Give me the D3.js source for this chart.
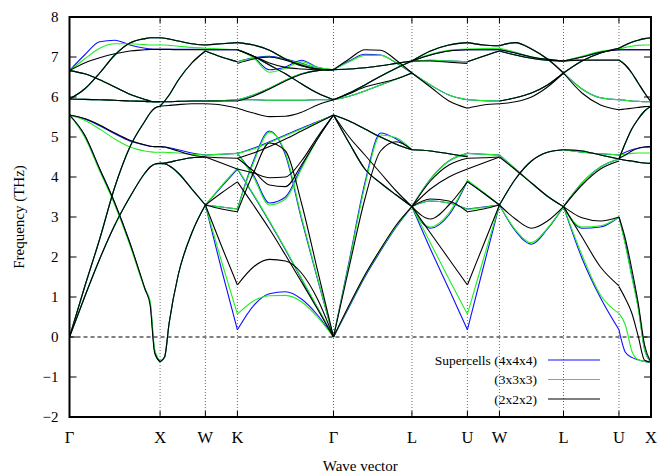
<!DOCTYPE html>
<html>
<head>
<meta charset="utf-8">
<script src="https://cdn.jsdelivr.net/npm/d3@7"></script>
<style>
  body { margin: 0; background: #fff; }
  text { font-family: "Liberation Serif", "Times New Roman", serif; fill: #000; }
</style>
</head>
<body>
<div id="chart"></div>
<script>
// high symmetry points along the fcc path (k in units of 2pi/a)
var kLabels = ['Γ', 'X', 'W', 'K', 'Γ', 'L', 'U', 'W', 'L', 'U', 'X'];
var kTicks = [0, 1, 1.5, 1.8536, 2.9142, 3.7802, 4.3926, 4.7462, 5.4533, 6.0657, 6.4193];
// sampling of each segment (fraction of segment length)
var segFr = [
  [0, 1/6, 1/3, 1/2, 2/3, 5/6, 0.89, 0.94, 1],
  [0, 0.1, 0.2, 0.4, 0.7, 1],
  [0, 0.5, 1],
  [0, 1/6, 1/3, 1/2, 2/3, 5/6, 1],
  [0, 0.2, 0.4, 0.6, 0.8, 1],
  [0, 1/3, 2/3, 1],
  [0, 0.5, 1],
  [0, 0.25, 0.5, 0.75, 1],
  [0, 1/3, 2/3, 1],
  [0, 0.2, 0.4, 0.6, 0.8, 1]
];
var yTicks = [-2, -1, 0, 1, 2, 3, 4, 5, 6, 7, 8];
var seriesNames = ['Supercells (4x4x4)', '(3x3x3)', '(2x2x2)'];

// branches that are the same for all three supercells (THz)
var shared = [
  [ [0, 1.0, 1.95, 2.8, 3.5, 4.1, 4.25, 4.32, 4.34],
    [0, 1.25, 2.45, 3.75, 4.75, 5.4, 5.6, 5.72, 5.77],
    [6.66, 6.58, 6.43, 6.25, 6.07, 5.94, 5.9, 5.88, 5.88],
    [5.95, 6.2, 6.6, 7.05, 7.35, 7.46, 7.48, 7.48, 7.48],
    [5.95, 5.94, 5.93, 5.92, 5.9, 5.89, 5.88, 5.88, 5.88] ],
  [ [-0.62, -0.5, 0.35, 1.55, 2.6, 3.3],
    [4.34, 4.33, 4.28, 4.1, 3.7, 3.3],
    [4.34, 4.35, 4.37, 4.42, 4.48, 4.5],
    [5.77, 5.9, 6.05, 6.42, 6.85, 7.15],
    [5.88, 5.88, 5.88, 5.89, 5.9, 5.9],
    [7.48, 7.47, 7.45, 7.4, 7.33, 7.3] ],
  [ [7.3, 7.33, 7.36],
    [7.15, 7.0, 6.88] ],
  [ [7.36, 7.3, 7.17, 6.95, 6.78, 6.7, 6.68],
    [7.18, 7.02, 6.8, 6.58, 6.33, 6.1, 5.93] ],
  [ [5.55, 4.85, 4.2, 3.85, 3.55, 3.26],
    [5.93, 6.1, 6.3, 6.52, 6.72, 6.9],
    [6.68, 6.7, 6.73, 6.78, 6.84, 6.9],
    [5.55, 5.4, 5.2, 5.0, 4.82, 4.68] ],
  [ [4.68, 4.65, 4.58, 4.51],
    [6.9, 7.15, 7.3, 7.36] ],
  [ [7.36, 7.3, 7.28],
    [6.88, 7.02, 7.15] ],
  [ [7.28, 7.36, 7.2, 6.95, 6.6],
    [7.15, 7.05, 6.97, 6.92, 6.9],
    [5.9, 5.98, 6.1, 6.3, 6.6],
    [3.3, 3.95, 4.4, 4.62, 4.68] ],
  [ [6.6, 6.9, 7.1, 7.22],
    [4.68, 4.65, 4.55, 4.45] ],
  [ [7.22, 7.3, 7.37, 7.42, 7.46, 7.48],
    [4.45, 4.42, 4.4, 4.37, 4.35, 4.34],
    [4.45, 4.85, 5.2, 5.45, 5.65, 5.77] ]
];

// 4x4x4
var blue = [
  [ [5.55, 5.05, 4.2, 3.35, 2.35, 1.2, 0.85, -0.35, -0.62],
    [5.55, 5.45, 5.28, 5.08, 4.9, 4.8, 4.77, 4.76, 4.76],
    [6.66, 7.05, 7.38, 7.42, 7.3, 7.22, 7.2, 7.19, 7.19] ],
  [ [4.76, 4.75, 4.73, 4.68, 4.6, 4.55],
    [7.19, 7.19, 7.19, 7.19, 7.19, 7.19] ],
  [ [3.3, 1.7, 0.18], [3.3, 3.25, 3.2], [3.3, 3.75, 4.2],
    [4.55, 4.57, 4.59], [7.19, 7.18, 7.18], [5.9, 5.91, 5.93] ],
  [ [0.18, 0.78, 1.08, 1.13, 0.95, 0.55, 0],
    [4.2, 3.55, 2.88, 2.18, 1.45, 0.73, 0],
    [3.2, 4.4, 5.15, 4.55, 2.95, 1.45, 0],
    [4.59, 4.05, 3.35, 3.5, 4.25, 4.95, 5.55],
    [4.59, 4.72, 4.88, 5.05, 5.22, 5.38, 5.55],
    [7.18, 7.0, 6.68, 6.75, 6.92, 6.74, 6.68],
    [6.88, 6.98, 7.02, 6.95, 6.84, 6.72, 6.68],
    [5.93, 6.05, 6.22, 6.42, 6.58, 6.66, 6.68],
    [5.93, 5.93, 5.92, 5.92, 5.92, 5.93, 5.93] ],
  [ [0, 0.75, 1.5, 2.15, 2.75, 3.26],
    [0, 1.9, 3.85, 5.1, 4.95, 4.68],
    [6.68, 6.9, 7.07, 7.05, 6.85, 6.6],
    [5.93, 6.02, 6.15, 6.3, 6.45, 6.6] ],
  [ [3.26, 2.2, 1.2, 0.18], [3.26, 2.72, 3.05, 3.9], [3.26, 3.4, 3.35, 3.2],
    [3.26, 3.95, 4.4, 4.59], [6.9, 6.92, 6.9, 6.88], [6.9, 7.05, 7.15, 7.18],
    [6.6, 6.3, 6.05, 5.93] ],
  [ [0.18, 1.75, 3.3], [3.2, 3.25, 3.3], [3.9, 3.6, 3.3],
    [4.59, 4.57, 4.55], [7.18, 7.18, 7.19], [5.93, 5.91, 5.9] ],
  [ [7.19, 7.1, 7.0, 6.94, 6.9],
    [3.3, 2.65, 2.32, 2.7, 3.26],
    [4.55, 4.2, 3.85, 3.52, 3.26] ],
  [ [3.26, 1.97, 0.98, 0.18], [3.26, 2.72, 2.75, 3.0], [3.26, 3.85, 4.25, 4.45],
    [6.9, 6.93, 6.93, 6.93], [6.9, 7.0, 7.12, 7.18], [4.68, 4.62, 4.58, 4.55],
    [6.6, 6.2, 5.98, 5.93] ],
  [ [0.18, -0.38, -0.51, -0.57, -0.61, -0.63],
    [3.0, 2.34, 1.55, 0.76, -0.3, -0.63],
    [4.55, 4.62, 4.68, 4.72, 4.75, 4.76],
    [7.18, 7.18, 7.18, 7.18, 7.18, 7.18],
    [6.93, 6.8, 6.6, 6.35, 6.1, 5.88],
    [5.93, 5.92, 5.9, 5.89, 5.88, 5.88] ]
];

// 3x3x3
var green = [
  [ [5.55, 5.0, 4.15, 3.3, 2.3, 1.2, 0.9, -0.3, -0.6],
    [5.55, 5.42, 5.2, 4.95, 4.75, 4.65, 4.63, 4.62, 4.62],
    [6.66, 6.95, 7.22, 7.33, 7.33, 7.31, 7.3, 7.3, 7.3] ],
  [ [4.62, 4.62, 4.61, 4.6, 4.57, 4.55],
    [7.3, 7.3, 7.29, 7.27, 7.24, 7.22] ],
  [ [3.3, 1.9, 0.57], [3.3, 3.25, 3.2], [3.3, 3.78, 4.22],
    [4.55, 4.57, 4.59], [7.22, 7.2, 7.18], [5.9, 5.91, 5.93] ],
  [ [0.57, 0.9, 1.03, 1.04, 0.88, 0.5, 0],
    [4.22, 3.57, 2.9, 2.2, 1.47, 0.74, 0],
    [3.2, 4.35, 5.12, 4.6, 3.0, 1.48, 0],
    [4.59, 4.0, 3.3, 3.45, 4.2, 4.95, 5.55],
    [4.59, 4.7, 4.86, 5.03, 5.2, 5.37, 5.55],
    [7.18, 6.98, 6.62, 6.72, 6.88, 6.74, 6.68],
    [6.88, 6.97, 7.0, 6.93, 6.83, 6.72, 6.68],
    [5.93, 6.05, 6.22, 6.42, 6.58, 6.66, 6.68],
    [5.93, 5.93, 5.92, 5.92, 5.92, 5.93, 5.93] ],
  [ [0, 0.78, 1.53, 2.18, 2.77, 3.26],
    [0, 1.85, 3.78, 5.05, 4.98, 4.68],
    [6.68, 6.88, 7.04, 7.04, 6.86, 6.6],
    [5.93, 6.02, 6.15, 6.3, 6.45, 6.6] ],
  [ [3.26, 2.35, 1.45, 0.57], [3.26, 2.75, 3.1, 3.92], [3.26, 3.4, 3.35, 3.19],
    [3.26, 3.95, 4.4, 4.59], [6.9, 6.92, 6.9, 6.88], [6.9, 7.07, 7.17, 7.2],
    [6.6, 6.3, 6.05, 5.93] ],
  [ [0.57, 1.95, 3.3], [3.19, 3.24, 3.3], [3.92, 3.62, 3.3],
    [4.59, 4.57, 4.55], [7.2, 7.21, 7.22], [5.93, 5.91, 5.9] ],
  [ [7.22, 7.12, 7.0, 6.94, 6.9],
    [3.3, 2.68, 2.36, 2.72, 3.26],
    [4.55, 4.2, 3.85, 3.52, 3.26] ],
  [ [3.26, 2.05, 1.05, 0.59], [3.26, 2.75, 2.78, 3.0], [3.26, 3.85, 4.25, 4.45],
    [6.9, 6.93, 6.93, 6.93], [6.9, 7.02, 7.14, 7.2], [4.68, 4.62, 4.58, 4.55],
    [6.6, 6.2, 5.98, 5.93] ],
  [ [0.59, 0.3, -0.35, -0.57, -0.61, -0.63],
    [3.0, 2.3, 1.5, 0.72, -0.32, -0.63],
    [4.55, 4.57, 4.59, 4.6, 4.6, 4.6],
    [7.2, 7.24, 7.27, 7.29, 7.3, 7.3],
    [6.93, 6.8, 6.6, 6.35, 6.1, 5.88],
    [5.93, 5.92, 5.9, 5.89, 5.88, 5.88] ]
];

// 2x2x2
var black = [
  [ [5.55, 5.05, 4.2, 3.35, 2.35, 1.2, 0.8, -0.4, -0.62],
    [5.55, 5.46, 5.3, 5.1, 4.92, 4.8, 4.77, 4.76, 4.76],
    [6.66, 6.85, 6.98, 7.08, 7.15, 7.18, 7.19, 7.19, 7.19] ],
  [ [4.76, 4.75, 4.72, 4.65, 4.55, 4.5],
    [7.19, 7.19, 7.19, 7.18, 7.18, 7.18],
    [5.77, 5.78, 5.79, 5.81, 5.83, 5.83] ],
  [ [3.3, 2.28, 1.3], [3.3, 3.2, 3.13], [3.3, 3.6, 3.88], [4.5, 4.48, 4.47],
    [4.5, 4.35, 4.2], [7.18, 7.18, 7.18], [5.83, 5.8, 5.72], [5.9, 5.9, 5.9] ],
  [ [1.3, 1.75, 1.94, 1.9, 1.6, 0.95, 0],
    [3.88, 3.3, 2.7, 2.05, 1.38, 0.7, 0],
    [3.13, 4.1, 4.85, 4.65, 3.35, 1.67, 0],
    [4.47, 4.15, 3.8, 3.76, 4.3, 4.95, 5.55],
    [4.2, 4.1, 3.98, 4.0, 4.4, 5.0, 5.55],
    [4.47, 4.6, 4.76, 4.95, 5.15, 5.35, 5.55],
    [7.18, 7.02, 6.85, 6.74, 6.7, 6.68, 6.68],
    [6.84, 6.95, 7.0, 6.92, 6.8, 6.7, 6.68],
    [5.72, 5.6, 5.51, 5.52, 5.62, 5.8, 5.93],
    [5.9, 6.02, 6.2, 6.4, 6.57, 6.66, 6.68] ],
  [ [0, 0.8, 1.55, 2.2, 2.8, 3.26],
    [0, 1.75, 3.45, 4.65, 4.88, 4.68],
    [6.68, 6.95, 7.18, 7.17, 6.92, 6.6],
    [5.93, 6.08, 6.25, 6.35, 6.45, 6.6],
    [5.55, 5.0, 4.55, 4.1, 3.65, 3.26] ],
  [ [3.26, 2.6, 1.95, 1.3], [3.26, 2.95, 3.3, 3.88], [3.26, 3.45, 3.4, 3.13],
    [3.26, 3.9, 4.3, 4.47], [3.26, 3.7, 4.0, 4.2], [6.9, 6.9, 6.87, 6.84],
    [6.9, 7.05, 7.15, 7.18], [6.6, 6.25, 5.9, 5.72] ],
  [ [1.3, 2.3, 3.3], [3.13, 3.2, 3.3], [3.88, 3.6, 3.3], [4.47, 4.48, 4.5],
    [4.2, 4.35, 4.5], [7.18, 7.18, 7.18], [5.72, 5.8, 5.83] ],
  [ [7.18, 7.1, 7.0, 6.94, 6.9],
    [3.3, 2.95, 2.72, 2.9, 3.26],
    [4.5, 4.18, 3.85, 3.52, 3.26],
    [5.83, 5.88, 6.0, 6.25, 6.6] ],
  [ [3.26, 2.5, 1.75, 1.28], [3.26, 2.98, 2.9, 3.0], [3.26, 3.8, 4.2, 4.4],
    [6.9, 6.92, 6.92, 6.92], [6.9, 7.0, 7.12, 7.18], [6.6, 6.1, 5.8, 5.68] ],
  [ [1.26, 0.96, 0.6, 0.02, -0.58, -0.63],
    [3.0, 2.45, 1.7, 0.85, -0.2, -0.63],
    [4.47, 4.55, 4.65, 4.72, 4.75, 4.76],
    [7.18, 7.18, 7.18, 7.18, 7.18, 7.18],
    [6.92, 6.8, 6.6, 6.35, 6.1, 5.88],
    [5.68, 5.7, 5.72, 5.74, 5.76, 5.77] ]
];

var colors = ['#1010ff', '#20ee20', '#000000'];
var series = [blue, green, black];

var W = 659, H = 474,
    margin = {left: 69.5, right: 8, top: 17, bottom: 57};

var svg = d3.select('#chart').append('svg')
  .attr('width', W).attr('height', H);

var x = d3.scaleLinear()
  .domain([0, kTicks[kTicks.length - 1]])
  .range([margin.left, W - margin.right]);
var y = d3.scaleLinear()
  .domain([-2, 8])
  .range([H - margin.bottom, margin.top]);

var pL = x.range()[0], pR = x.range()[1], pT = y.range()[1], pB = y.range()[0];

svg.append('clipPath').attr('id', 'clip')
  .append('rect')
  .attr('x', pL).attr('y', pT)
  .attr('width', pR - pL)
  .attr('height', pB - pT);

// dotted lines at the symmetry points
svg.append('g').selectAll('line')
  .data(kTicks.slice(1, -1))
  .enter().append('line')
    .attr('x1', function(d) { return x(d); })
    .attr('x2', function(d) { return x(d); })
    .attr('y1', pB).attr('y2', pT)
    .attr('stroke', '#444')
    .attr('stroke-width', 0.8)
    .attr('stroke-dasharray', '1,2');

// zero line
svg.append('line')
  .attr('x1', pL).attr('x2', pR)
  .attr('y1', y(0)).attr('y2', y(0))
  .attr('stroke', '#000').attr('stroke-width', 1)
  .attr('stroke-dasharray', '4,3');

var line = d3.line()
  .x(function(d) { return x(d[0]); })
  .y(function(d) { return y(d[1]); })
  .curve(d3.curveMonotoneX);

var bands = svg.append('g').attr('clip-path', 'url(#clip)');
series.forEach(function(s, si) {
  var g = bands.append('g')
    .attr('fill', 'none')
    .attr('stroke', colors[si])
    .attr('stroke-width', 1.1);
  s.forEach(function(seg, i) {
    var k0 = kTicks[i], k1 = kTicks[i + 1];
    shared[i].concat(seg).forEach(function(vals) {
      var pts = vals.map(function(v, j) {
        return [k0 + segFr[i][j] * (k1 - k0), v];
      });
      g.append('path').attr('d', line(pts));
    });
  });
});

// frame and ticks
svg.append('rect')
  .attr('x', pL).attr('y', pT)
  .attr('width', pR - pL).attr('height', pB - pT)
  .attr('fill', 'none').attr('stroke', '#000').attr('stroke-width', 2);

var yt = svg.append('g');
yTicks.forEach(function(t) {
  yt.append('line').attr('x1', pL).attr('x2', pL + 7)
    .attr('y1', y(t)).attr('y2', y(t)).attr('stroke', '#000').attr('stroke-width', 1);
  yt.append('line').attr('x1', pR - 7).attr('x2', pR)
    .attr('y1', y(t)).attr('y2', y(t)).attr('stroke', '#000').attr('stroke-width', 1);
  yt.append('text')
    .attr('x', pL - 11).attr('y', y(t))
    .attr('dy', '0.35em')
    .attr('text-anchor', 'end')
    .style('font-size', '15px')
    .text(t < 0 ? '\u2212' + Math.abs(t) : t);
});

var xt = svg.append('g');
kTicks.forEach(function(k, i) {
  xt.append('line').attr('x1', x(k)).attr('x2', x(k))
    .attr('y1', pB).attr('y2', pB - 6).attr('stroke', '#000');
  xt.append('line').attr('x1', x(k)).attr('x2', x(k))
    .attr('y1', pT).attr('y2', pT + 6).attr('stroke', '#000');
  xt.append('text')
    .attr('x', x(k)).attr('y', pB + 26)
    .attr('text-anchor', 'middle')
    .style('font-size', '16.5px')
    .text(kLabels[i]);
});

svg.append('text')
  .attr('x', (pL + pR) / 2).attr('y', H - 3)
  .attr('text-anchor', 'middle')
  .style('font-size', '15px')
  .text('Wave vector');

svg.append('text')
  .attr('transform', 'translate(24,' + ((pT + pB) / 2) + ') rotate(-90)')
  .attr('text-anchor', 'middle')
  .style('font-size', '15px')
  .text('Frequency (THz)');

// legend
var lg = svg.append('g');
seriesNames.forEach(function(name, i) {
  var ly = 360 + i * 19.5;
  lg.append('text')
    .attr('x', 537).attr('y', ly).attr('dy', '0.35em')
    .attr('text-anchor', 'end')
    .style('font-size', '13.5px')
    .text(name);
  lg.append('line')
    .attr('x1', 548).attr('x2', 600)
    .attr('y1', ly).attr('y2', ly)
    .attr('stroke', colors[i]).attr('stroke-width', 1.2);
});
</script>
</body>
</html>
